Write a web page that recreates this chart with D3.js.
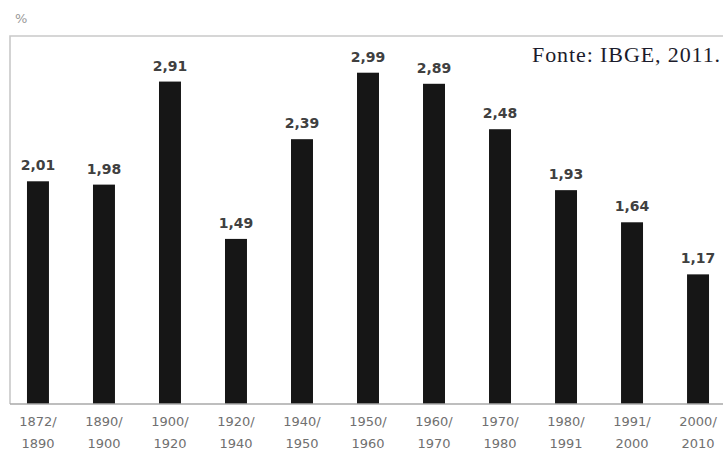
<!DOCTYPE html>
<html>
<head>
<meta charset="utf-8">
<script src="https://cdn.jsdelivr.net/npm/d3@7"></script>
<style>
  body { margin: 0; background: #fff; }
  svg { display: block; }
</style>
</head>
<body>
<svg id="chart" width="723" height="459"></svg>
<script>
const periods = ["1872/1890", "1890/1900", "1900/1920", "1920/1940", "1940/1950",
  "1950/1960", "1960/1970", "1970/1980", "1980/1991", "1991/2000", "2000/2010"];
const rates = [2.01, 1.98, 2.91, 1.49, 2.39, 2.99, 2.89, 2.48, 1.93, 1.64, 1.17];
const unitLabel = "%";
const sourceNote = "Fonte: IBGE, 2011.";

const svg = d3.select("#chart");
const width = 723;
const height = 459;

const frame = { left: 10, top: 36, bottom: 404 };

const x = d3.scaleBand()
  .domain(periods)
  .range([5, 731])
  .paddingInner(0.667)
  .paddingOuter(0.333);

const y = d3.scaleLinear()
  .domain([0, 3])
  .range([frame.bottom, frame.bottom - 3 * 110.8]);

// box around the plot (no right side, it runs off the picture)
svg.append("path")
  .attr("d", `M${width + 2},${frame.top} H${frame.left} V${frame.bottom}`)
  .attr("fill", "none")
  .attr("stroke", "#c9c9c9")
  .attr("stroke-width", 1.6);

// bars
svg.append("g")
  .selectAll("rect")
  .data(rates)
  .join("rect")
  .attr("x", (d, i) => x(periods[i]))
  .attr("y", d => y(d))
  .attr("width", x.bandwidth())
  .attr("height", d => y(0) - y(d))
  .attr("fill", "#161616");

// value labels
svg.append("g")
  .selectAll("text")
  .data(rates)
  .join("text")
  .attr("x", (d, i) => x(periods[i]) + x.bandwidth() / 2)
  .attr("y", d => y(d) - 11)
  .attr("text-anchor", "middle")
  .attr("font-family", "DejaVu Sans")
  .attr("font-weight", "bold")
  .attr("font-size", 14)
  .attr("fill", "#404040")
  .text(d => d.toFixed(2).replace(".", ","));

// x axis, labels on two lines
const xAxis = svg.append("g")
  .attr("transform", `translate(0,${frame.bottom})`)
  .call(d3.axisBottom(x).tickSize(0).tickPadding(0));

xAxis.select(".domain")
  .attr("d", `M${frame.left},0 H${width + 2}`)
  .attr("stroke", "#a8a8a8")
  .attr("stroke-width", 1.6);

xAxis.selectAll(".tick text")
  .attr("font-family", "DejaVu Sans")
  .attr("font-size", 13)
  .attr("fill", "#707070")
  .attr("dy", null)
  .attr("y", null)
  .text(null)
  .each(function (d) {
    const parts = d.split("/");
    const t = d3.select(this);
    t.append("tspan").attr("x", 0).attr("y", 22).text(parts[0] + "/");
    t.append("tspan").attr("x", 0).attr("y", 44).text(parts[1]);
  });

// unit
svg.append("text")
  .attr("x", 15)
  .attr("y", 23)
  .attr("font-family", "DejaVu Sans")
  .attr("font-size", 13)
  .attr("fill", "#9a9a9a")
  .text(unitLabel);

// source note
svg.append("text")
  .attr("x", 721)
  .attr("y", 62)
  .attr("text-anchor", "end")
  .attr("font-family", "Liberation Serif")
  .attr("font-size", 22)
  .attr("letter-spacing", 0.9)
  .attr("fill", "#1c1c2c")
  .text(sourceNote);
</script>
</body>
</html>
